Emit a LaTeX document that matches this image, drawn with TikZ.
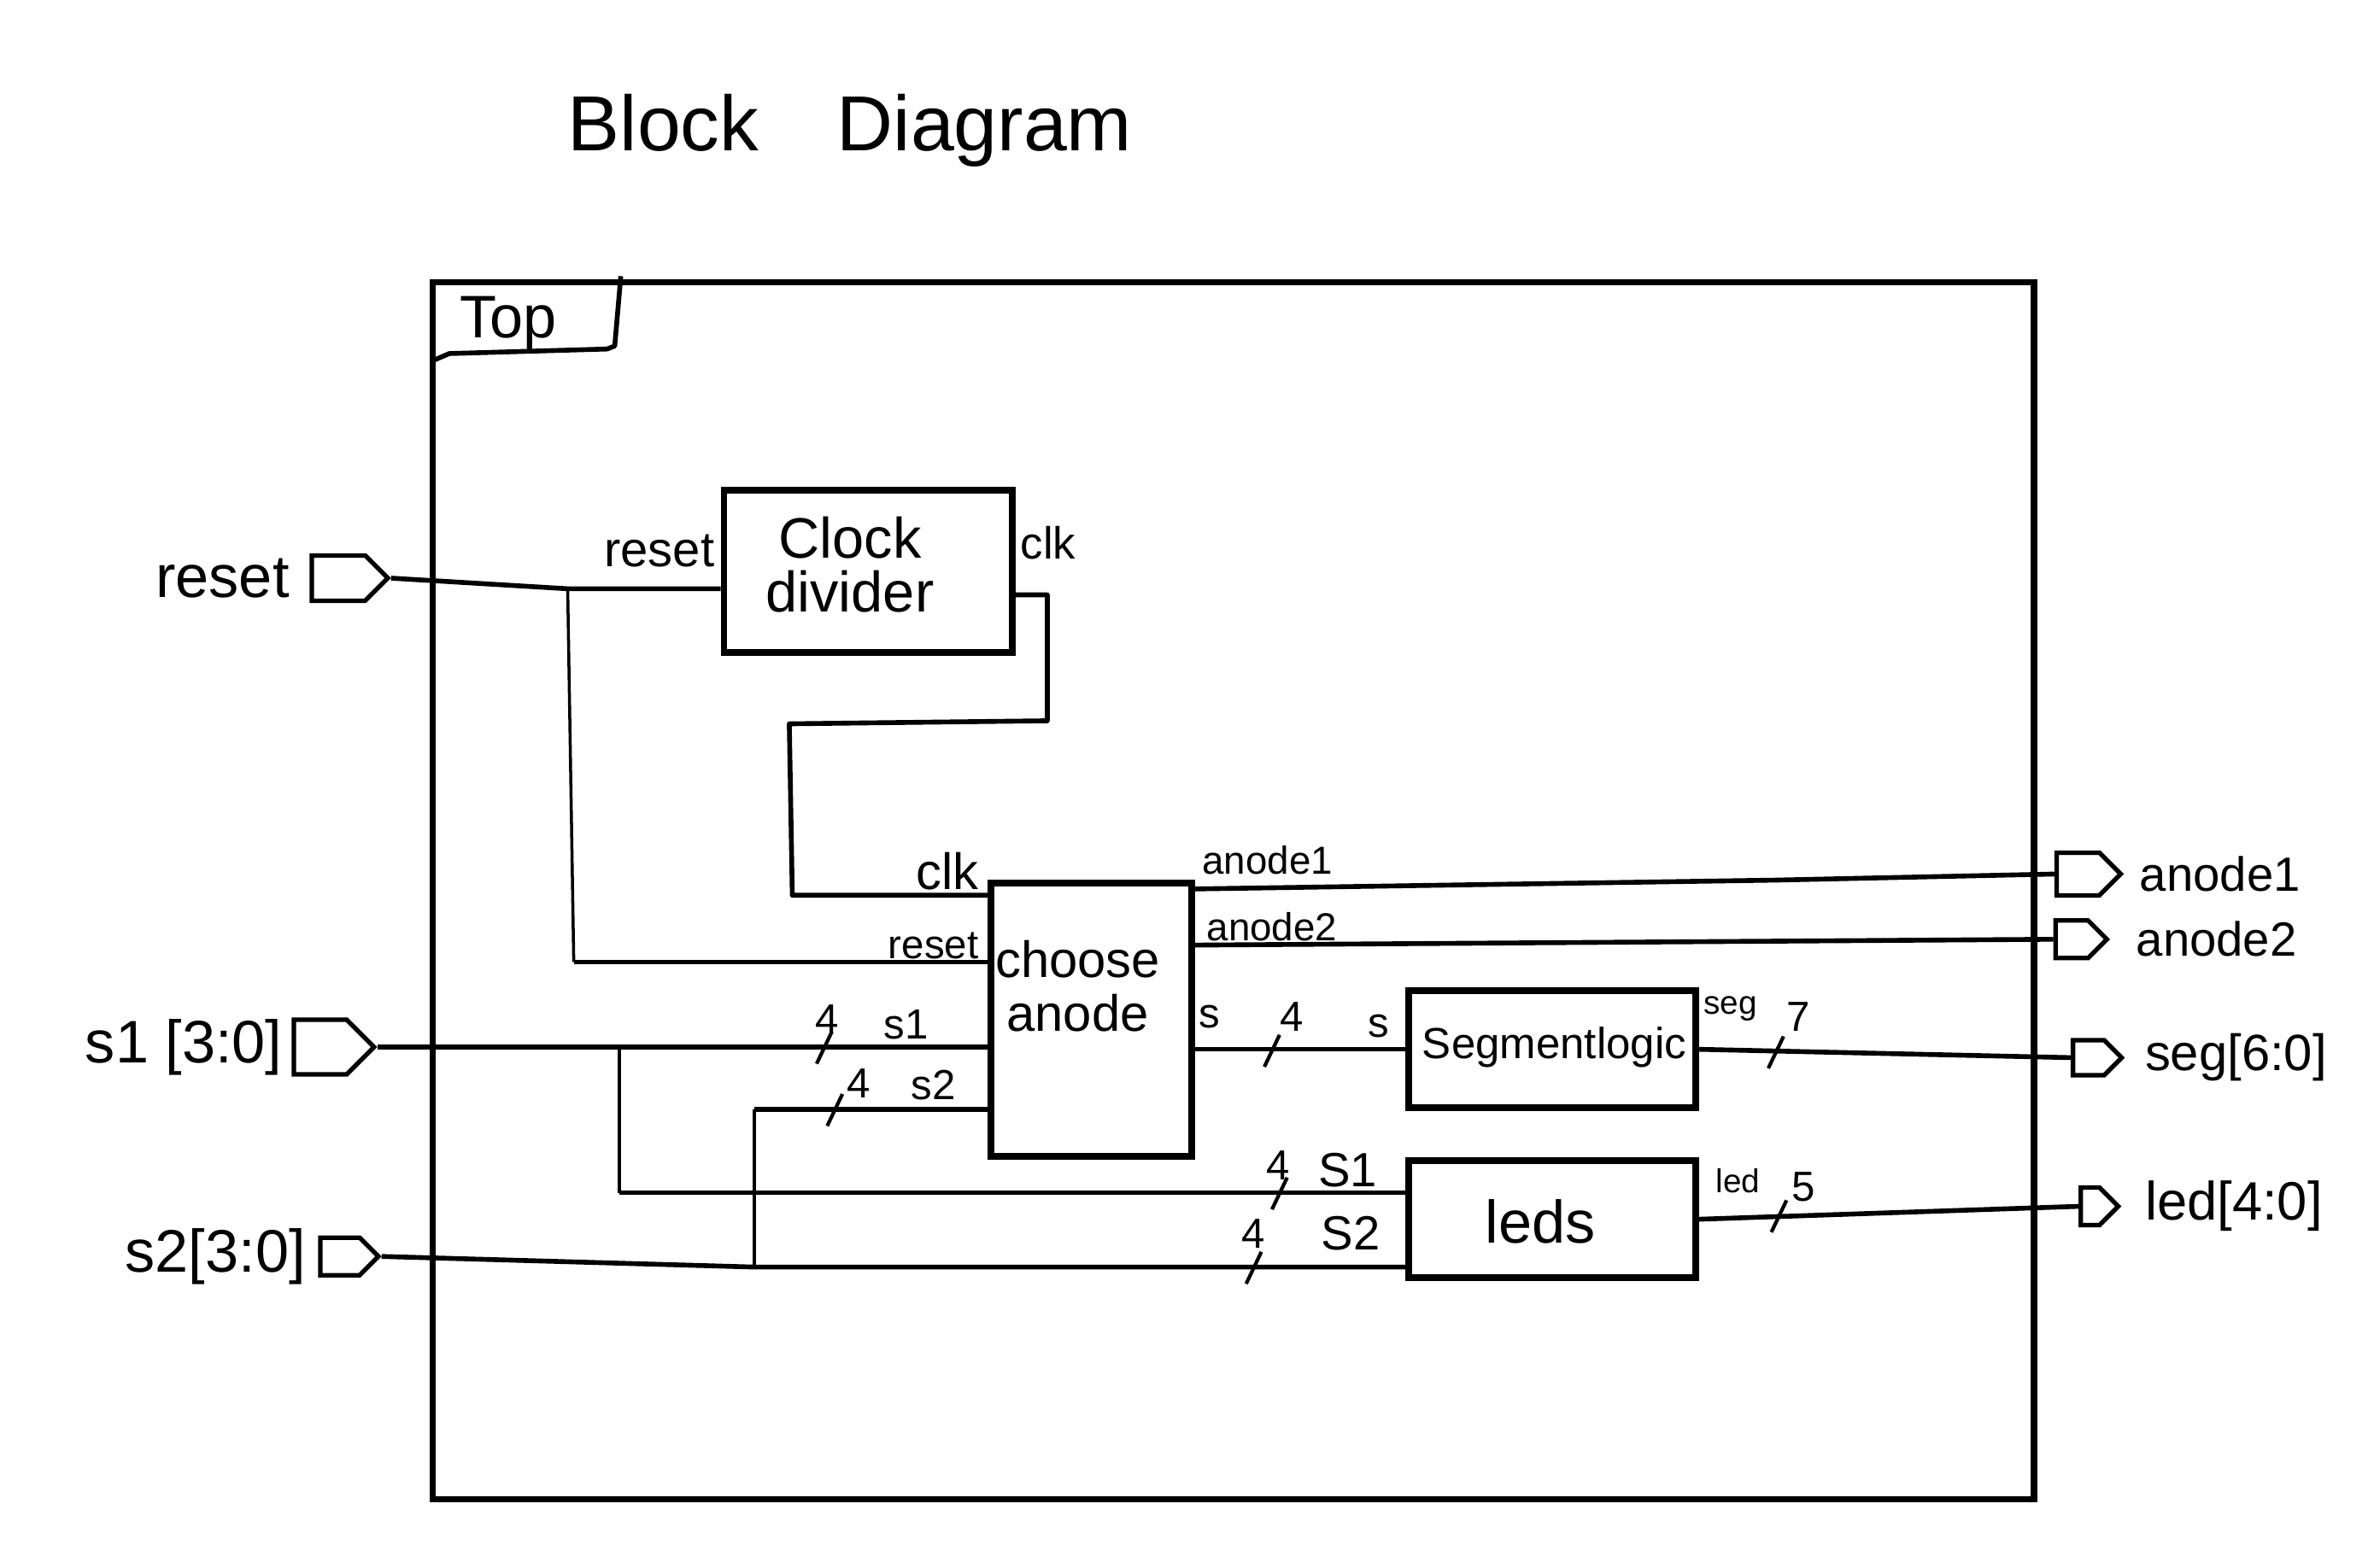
\documentclass[tikz,border=0pt]{standalone}
\usepackage{fontspec}
\setmainfont{Liberation Sans}
\usetikzlibrary{positioning,fit,shapes.symbols}
\newcommand{\fsz}[1]{\fontsize{#1}{#1}\selectfont}

\begin{document}
\begin{tikzpicture}[x=0.017768cm, y=-0.017768cm,
    blk/.style={draw, line width=2.2pt, inner sep=0pt},
    port/.style={signal, signal to=east, draw, line width=1.5pt, inner sep=0pt},
    wire/.style={line width=1.6pt, line join=round},
    branch/.style={line width=1pt},
    lbl/.style={font=\fsz{14}, inner sep=0pt},
    tiny/.style={font=\fsz{11}, inner sep=0pt},
    portlbl/.style={font=\fsz{20}, inner sep=0pt}]
  \useasboundingbox (0,0) rectangle (1568,1033);

  % title
  \node[font=\fsz{26}] (title) at (560,86) {Block\quad Diagram};

  % outer module with its tab
  \node[blk, fit={(285,186) (1340,988)}] (top) {};
  \draw[wire] (top.north west) ++(2,54) -- (296,233) -- (400,230) -- (405,228) -- (409,182);
  \node[font=\fsz{20}] (toplbl) at (335,213) {Top};

  % blocks
  \node[blk, fit={(477,323) (667,430)}] (clkdiv) {};
  \node[font=\fontsize{19}{18}\selectfont, align=center] (clkdivtxt) at (560,372) {Clock\\divider};
  \node[blk, fit={(653,582) (785,762)}] (choose) {};
  \node[font=\fontsize{17}{18}\selectfont, align=center] (choosetxt) at (710,650) {choose\\anode};
  \node[blk, fit={(928,653) (1117,730)}] (seglog) {};
  \node[font=\fsz{14.5}] (seglogtxt) at (1024,690) {Segmentlogic};
  \node[blk, fit={(928,765) (1117,842)}] (leds) {};
  \node[font=\fsz{20}] (ledstxt) at (1015,805) {leds};

  % input ports
  \node[port, minimum width=0.89cm, minimum height=0.53cm] (preset) at (223,381) {};
  \node[port, minimum width=0.94cm, minimum height=0.64cm] (ps1) at (211,690) {};
  \node[port, minimum width=0.68cm, minimum height=0.44cm] (ps2) at (224,828) {};
  \node[portlbl, left=0.23cm of preset] (presetlbl) {reset};
  \node[portlbl, left=0.1cm of ps1] (ps1lbl) {s1 [3:0]};
  \node[portlbl, left=0.14cm of ps2] (ps2lbl) {s2[3:0]};

  % output ports
  \node[port, minimum width=0.75cm, minimum height=0.50cm] (pa1) at (1369,576) {};
  \node[port, minimum width=0.60cm, minimum height=0.44cm] (pa2) at (1365,619) {};
  \node[port, minimum width=0.57cm, minimum height=0.41cm] (pseg) at (1376,697) {};
  \node[port, minimum width=0.44cm, minimum height=0.44cm] (pled) at (1377,795) {};
  \node[portlbl, font=\fsz{16}, right=0.18cm of pa1] (pa1lbl) {anode1};
  \node[portlbl, font=\fsz{16}, right=0.3cm of pa2] (pa2lbl) {anode2};
  \node[portlbl, font=\fsz{17}, right=0.23cm of pseg] (pseglbl) {seg[6:0]};
  \node[portlbl, font=\fsz{18}, right=0.27cm of pled] (pledlbl) {led[4:0]};

  % junctions and bends
  \coordinate (jrst) at (374,388);
  \coordinate (rstc) at (378,634);
  \coordinate (ck1) at (690,392);
  \coordinate (ck2) at (690,475);
  \coordinate (ck3) at (520,477);
  \coordinate (ck4) at (522,590);
  \coordinate (a1) at (1170,580);
  \coordinate (js1) at (408,690);
  \coordinate (s1c) at (408,786);
  \coordinate (js2) at (497,835);
  \coordinate (s2c) at (497,731);

  % reset
  \draw[wire] (preset.east) -- (jrst) -- (clkdiv.west |- jrst);
  \draw[branch] (jrst) -- (rstc);
  \draw[wire] (rstc) -- (choose.west |- rstc);
  % clock
  \draw[wire] (clkdiv.east |- ck1) -- (ck1) -- (ck2) -- (ck3) -- (ck4) -- (choose.west |- ck4);
  % anodes
  \draw[wire] (choose.north east) ++(0,6) -- (a1) -- (pa1.west);
  \draw[wire] (choose.north east) ++(0,43) -- (pa2.west);
  % s, seg, led
  \draw[wire] (choose.east |- seglog.west) -- (seglog.west);
  \draw[wire] (seglog.east) -- (pseg.west);
  \draw[wire] (leds.east) -- (pled.west);
  % s1
  \draw[wire] (ps1.east) -- (js1) -- (choose.west |- js1);
  \draw[branch] (js1) -- (s1c);
  \draw[wire] (s1c) -- (leds.west |- s1c);
  % s2
  \draw[wire] (ps2.east) -- (js2) -- (leds.west |- js2);
  \draw[branch] (js2) -- (s2c);
  \draw[wire] (s2c) -- (choose.west |- s2c);

  % bus width slashes
  \foreach \x/\y in {543/690, 550/731, 838/692, 1170/693, 1172/801, 843/786, 826/835}
    \draw[branch, line width=1.2pt] (\x-5,\y+11) -- (\x+5,\y-10);

  % pin labels
  \node[font=\fsz{16.5}, inner sep=0pt, anchor=east] (rstlbl) at (471,363) {reset};
  \node[font=\fsz{15}, inner sep=0pt, anchor=west] (clklbl) at (672,358) {clk};
  \node[font=\fsz{17}, inner sep=0pt] (chclk) at (624,574) {clk};
  \node[font=\fsz{13.5}, inner sep=0pt] (chrst) at (615,623) {reset};
  \node[font=\fsz{13}, inner sep=0pt] (cha1) at (835,567) {anode1};
  \node[font=\fsz{13}, inner sep=0pt] (cha2) at (838,611) {anode2};
  \node[lbl] (chs) at (797,670) {s};
  \node[lbl] (sw) at (851,670) {4};
  \node[lbl] (sgs) at (908,676) {s};
  \node[tiny] (sgseg) at (1140,665) {seg};
  \node[lbl] (segw) at (1185,670) {7};
  \node[tiny] (ldled) at (1145,778) {led};
  \node[lbl] (ledw) at (1188,782) {5};
  \node[lbl] (s1w) at (545,672) {4};
  \node[lbl] (chs1) at (597,675) {s1};
  \node[lbl] (s2w) at (566,714) {4};
  \node[lbl] (chs2) at (615,715) {s2};
  \node[lbl] (ls1w) at (842,768) {4};
  \node[lbl, font=\fsz{16}] (lds1) at (888,771) {S1};
  \node[lbl] (ls2w) at (826,813) {4};
  \node[lbl, font=\fsz{16}] (lds2) at (890,813) {S2};
\end{tikzpicture}
\end{document}
